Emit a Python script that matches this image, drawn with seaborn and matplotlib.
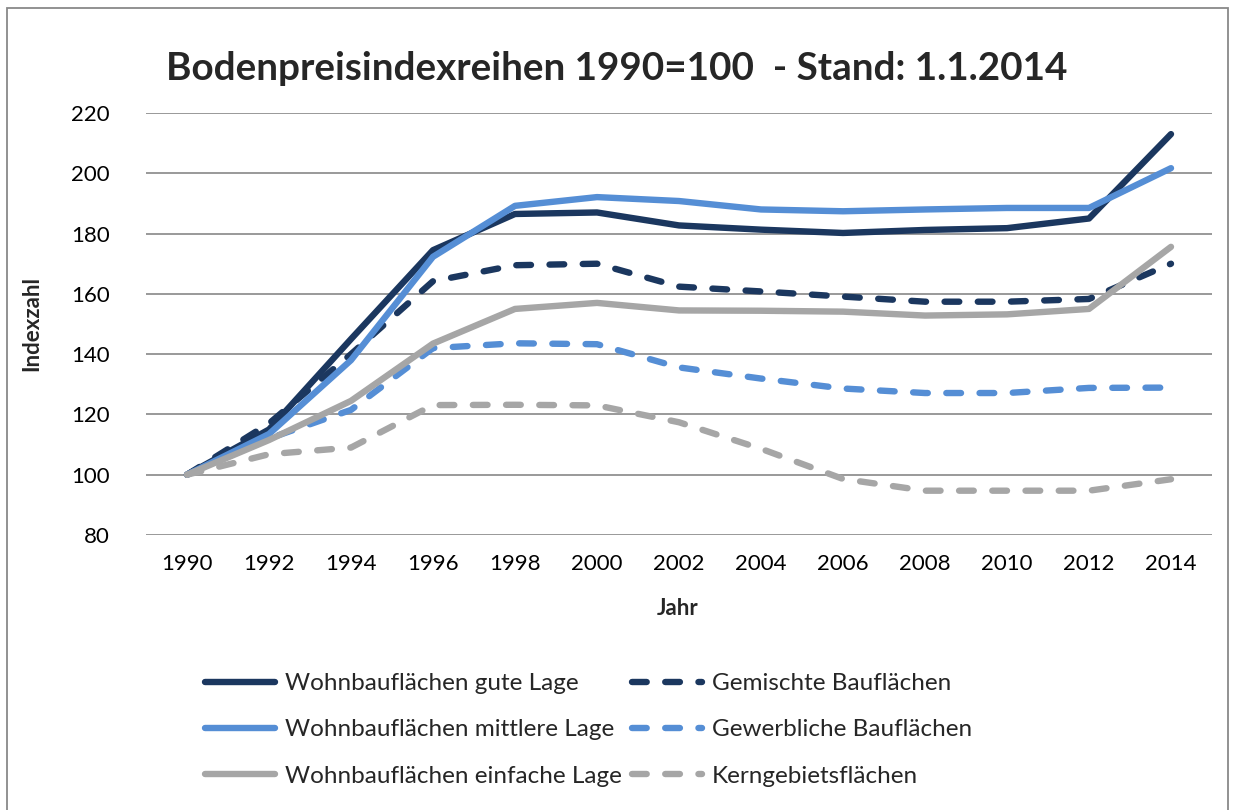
import numpy as np
import pandas as pd
import matplotlib
matplotlib.use("Agg")
import matplotlib.pyplot as plt
from matplotlib.patches import Rectangle
import seaborn as sns

# --- data ---
years = [1990, 1992, 1994, 1996, 1998, 2000, 2002, 2004, 2006, 2008, 2010, 2012, 2014]
gute_lage = [100, 115, 145, 174.5, 186.5, 187, 182.7, 181.3, 180.2, 181.2, 181.8, 185, 213]
gemischte = [100, 117, 140, 164.2, 169.5, 170, 162.4, 160.8, 159.1, 157.4, 157.4, 158.3, 170]
mittlere_lage = [100, 113.5, 138, 172.3, 189.2, 192.1, 190.8, 188, 187.4, 188, 188.5, 188.5, 201.7]
gewerbliche = [100, 112, 121.5, 142, 143.6, 143.3, 135.6, 131.9, 128.6, 127.1, 127.1, 128.8, 128.9]
einfache_lage = [100, 111.5, 124.5, 143.5, 155, 157, 154.5, 154.4, 154.1, 152.8, 153.2, 155, 175.6]
kerngebiet = [100, 106.8, 109, 123.1, 123.2, 123, 117.4, 108.6, 98.6, 94.7, 94.7, 94.7, 98.5]

series_names = [
    "Wohnbauflächen gute Lage",
    "Gemischte Bauflächen",
    "Wohnbauflächen mittlere Lage",
    "Gewerbliche Bauflächen",
    "Wohnbauflächen einfache Lage",
    "Kerngebietsflächen",
]
series_values = [gute_lage, gemischte, mittlere_lage, gewerbliche, einfache_lage, kerngebiet]

NAVY = "#1B375F"
BLUE = "#558ED5"
GRAY = "#A6A6A6"
palette = dict(zip(series_names, [NAVY, NAVY, BLUE, BLUE, GRAY, GRAY]))
dash = (2.3, 2.9)
dashes = dict(zip(series_names, ["", dash, "", dash, "", dash]))

df = pd.concat(
    [pd.DataFrame({"Jahr": years, "Index": vals, "Reihe": name})
     for name, vals in zip(series_names, series_values)],
    ignore_index=True,
)

sns.set_theme(style="white")
plt.rcParams["font.family"] = ["Lato", "DejaVu Sans"]

W, H = 1235, 810
fig = plt.figure(figsize=(W / 100, H / 100), dpi=100)
ax = fig.add_axes([146 / W, 1 - 535 / H, 1066 / W, 422 / H])

sns.lineplot(
    data=df, x="Jahr", y="Index", hue="Reihe", style="Reihe",
    hue_order=series_names, style_order=series_names,
    palette=palette, dashes=dashes, linewidth=4.6, ax=ax, legend=False,
)
for line in ax.get_lines():
    line.set_dash_capstyle("round")
    line.set_solid_capstyle("round")
    line.set_solid_joinstyle("round")
    line.set_dash_joinstyle("round")

ax.set_xlim(1989, 2015)
ax.set_ylim(80, 220)
ax.set_xticks(years)
ax.set_yticks(range(80, 221, 20))
ax.grid(axis="y", color="#878787", linewidth=1.2)
ax.grid(axis="x", visible=False)
for sp in ax.spines.values():
    sp.set_visible(False)
ax.tick_params(axis="both", length=0, labelsize=16, colors="black")
ax.tick_params(axis="y", pad=26)
ax.tick_params(axis="x", pad=14)

ax.set_xlabel("Jahr", fontsize=16, fontweight="bold")
ax.set_ylabel("Indexzahl", fontsize=16, fontweight="bold")
ax.xaxis.label.set_va("center")
ax.yaxis.label.set_va("center")
ax.xaxis.set_label_coords(0.499, -0.173)
ax.yaxis.set_label_coords(-0.107, 0.502)

fig.text(0.499, 1 - 68 / H, "Bodenpreisindexreihen 1990=100  - Stand: 1.1.2014",
         ha="center", va="center", fontsize=27.8, fontweight="bold")

# legend: column-wise fill -> solids in column 1, dashed in column 2
lines = dict(zip(series_names, ax.get_lines()))
order = [series_names[i] for i in (0, 2, 4, 1, 3, 5)]
fig.legend(
    [lines[n] for n in order], order,
    ncol=2, loc="upper left", bbox_to_anchor=(205 / W, 1 - 673 / H),
    frameon=False, fontsize=17.5, handlelength=2.9, handletextpad=0.4,
    columnspacing=0.4, labelspacing=1.04, borderpad=0, borderaxespad=0,
)

fig.add_artist(Rectangle((7 / W, -0.02), (1228 - 7) / W, 1.02 - 8 / H,
                         transform=fig.transFigure, fill=False,
                         edgecolor="#898989", linewidth=1.3))

fig.savefig("out.png", dpi=100)
